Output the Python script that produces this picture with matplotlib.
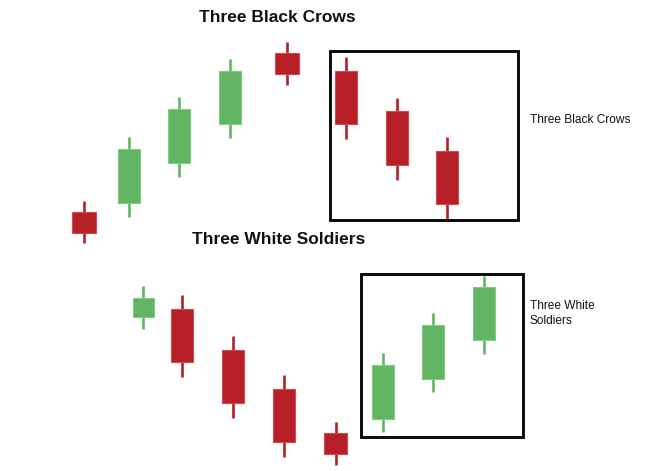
import matplotlib.pyplot as plt
from matplotlib.patches import Rectangle

# candle data (x position, open, high, low, close)
top_x = [84, 128.5, 179, 230, 287, 346, 396.5, 447]
top_open = [259, 268, 308, 347, 418, 400, 360, 320]
top_high = [270, 334, 374, 412, 429, 414, 373, 334]
top_low = [228, 254, 294, 333, 386, 332, 291, 252]
top_close = [238, 322, 362, 400, 397, 347, 306, 267]
top_width = [24, 22, 22, 22, 24, 22, 22, 22]

bot_x = [143, 182, 232.5, 283.5, 335.5, 382.5, 432.5, 483.5]
bot_open = [154, 162, 121, 82, 38, 52, 92, 131]
bot_high = [185, 176, 135, 96, 49, 118, 158, 195]
bot_low = [142, 94, 53, 14, 6, 39, 79, 117]
bot_close = [173, 109, 68, 29, 17, 106, 146, 184]
bot_width = [21, 22, 22, 22, 23, 22, 22, 22]

red = '#b51f25'
red_edge = '#d04a4e'
green = '#62b562'
green_edge = '#82c982'

fig = plt.figure(figsize=(6.59, 4.71), dpi=100)
ax = fig.add_axes([0, 0, 1, 1])
ax.set_xlim(0, 659)
ax.set_ylim(0, 471)
ax.axis('off')


def candles(xs, o, h, l, c, w):
    for i in range(len(xs)):
        up = c[i] >= o[i]
        col = green if up else red
        edge = green_edge if up else red_edge
        ax.vlines(xs[i], l[i], h[i], color=col, lw=1.9, zorder=2)
        lo = min(o[i], c[i])
        ax.add_patch(Rectangle((xs[i] - w[i] / 2, lo), w[i], abs(c[i] - o[i]),
                               facecolor=col, edgecolor=edge, lw=0.8, zorder=3))


candles(top_x, top_open, top_high, top_low, top_close, top_width)
candles(bot_x, bot_open, bot_high, bot_low, bot_close, bot_width)

# pattern boxes
ax.add_patch(Rectangle((329.5, 251), 188, 169, fill=False, edgecolor='#0a0a0a', lw=2.1, zorder=4))
ax.add_patch(Rectangle((361, 34), 161.5, 163, fill=False, edgecolor='#0a0a0a', lw=2.1, zorder=4))

ax.text(277, 454, 'Three Black Crows', ha='center', va='center', fontsize=12.5,
        fontweight='bold', family='Liberation Sans', color='#111111')
ax.text(279, 231, 'Three White Soldiers', ha='center', va='center', fontsize=12.5,
        fontweight='bold', family='Liberation Sans', color='#111111')
ax.text(530, 351, 'Three Black Crows', ha='left', va='center', fontsize=8.6,
        family='Liberation Sans', color='#111111')
ax.text(530, 171, 'Three White\nSoldiers', ha='left', va='top', fontsize=8.6,
        family='Liberation Sans', color='#111111', linespacing=1.3)

fig.savefig('out.png', dpi=100)
